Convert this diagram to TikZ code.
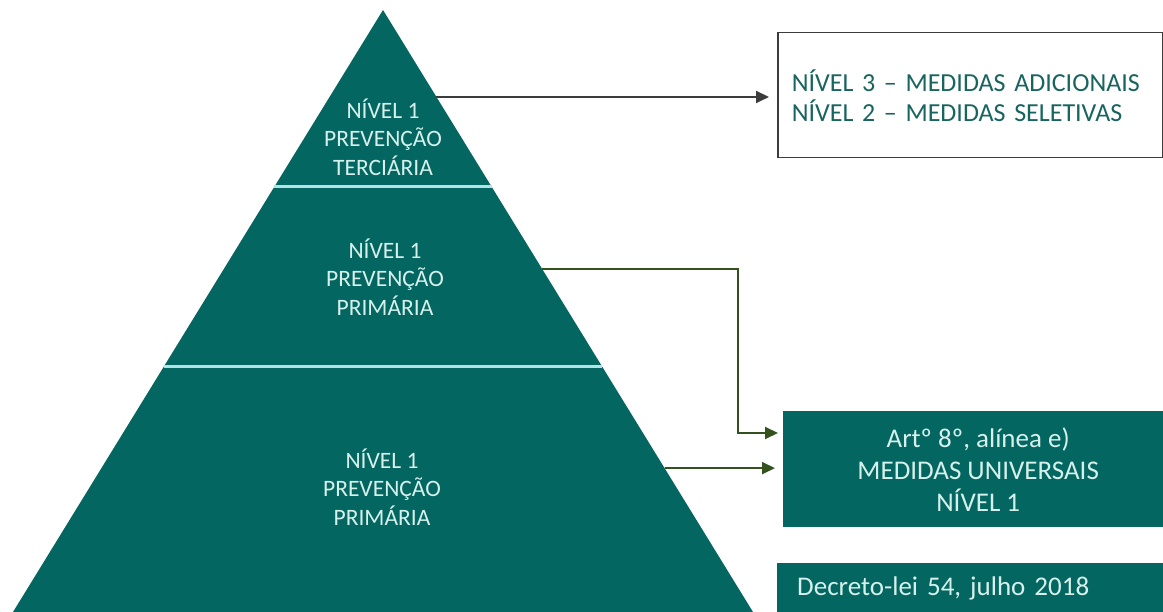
\documentclass[tikz,border=0pt]{standalone}
\usepackage{fontspec}
\setmainfont{Carlito}
\usepackage{xcolor}
\usepackage{tikz}
\usetikzlibrary{arrows.meta,calc}

\definecolor{pyrteal}{RGB}{4,102,96}
\definecolor{pyrtext}{RGB}{214,240,236}
\definecolor{pyrsep}{RGB}{178,228,230}
\definecolor{boxgray}{RGB}{60,60,60}
\definecolor{boxtext}{RGB}{24,100,95}
\definecolor{connolive}{RGB}{52,82,30}

\begin{document}
\begin{tikzpicture}[x=1pt,y=-1pt,
  lbl/.style={text=pyrtext,align=center,font=\fontsize{23.5}{28.5}\selectfont},
  tealbox/.style={fill=pyrteal,text=pyrtext,anchor=north west},
  conn/.style={line width=2pt,color=connolive,-{Triangle[length=13pt,width=12pt]}}]

\useasboundingbox (0,0) rectangle (1163,612);

% pyramid fill
\coordinate (apex) at (383,10);
\coordinate (bl) at (13,612);
\coordinate (br) at (753,612);
\fill[pyrteal] (apex) -- (bl) -- (br) -- cycle;

% separators
\foreach \lev in {187,367}{
  \pgfmathsetmacro\frac{(\lev-10)/602}
  \draw[line width=3pt,pyrsep] ($(apex)!\frac!(bl)$) -- ($(apex)!\frac!(br)$);
}

% pyramid labels
\node[lbl] (tert) at (383,137) {NÍVEL 1\\PREVENÇÃO\\TERCIÁRIA};
\node[lbl] (primb) at (385,277) {NÍVEL 1\\PREVENÇÃO\\PRIMÁRIA};
\node[lbl] (prima) at (382,487) {NÍVEL 1\\PREVENÇÃO\\PRIMÁRIA};

% boxes
\node[draw=boxgray,line width=1.5pt,fill=white,anchor=north west,text=boxtext,
  text width=357pt,inner xsep=14pt,minimum height=125pt,align=left,
  font=\fontsize{26}{30}\selectfont] (medidas) at (777,32)
  {NÍVEL 3 – MEDIDAS ADICIONAIS\\NÍVEL 2 – MEDIDAS SELETIVAS};
\node[tealbox,minimum width=390pt,minimum height=116pt,align=center,
  font=\fontsize{27}{32}\selectfont] (univ) at (783,411)
  {Artº 8º, alínea e)\\MEDIDAS UNIVERSAIS\\NÍVEL 1};
\node[tealbox,text width=370pt,inner xsep=20pt,inner ysep=14pt,align=left,
  font=\fontsize{27}{32}\selectfont] (decreto) at (777,563)
  {Decreto-lei 54, julho 2018};

% connectors
\coordinate (s1) at ($(apex)!0.1445!(br)$);
\coordinate (s2) at ($(apex)!0.430!(br)$);
\coordinate (s3) at ($(apex)!0.761!(br)$);
\coordinate (t2) at ($(univ.north west)+(0,22)$);

\draw[conn,color=boxgray,shorten >=8pt] (s1) -- (s1 -| medidas.west);
\draw[conn,shorten >=5pt] (s2) -| ($(t2)+(-45,0)$) -- (t2);
\draw[conn,shorten >=8pt] (s3) -- (s3 -| univ.west);

\end{tikzpicture}
\end{document}
